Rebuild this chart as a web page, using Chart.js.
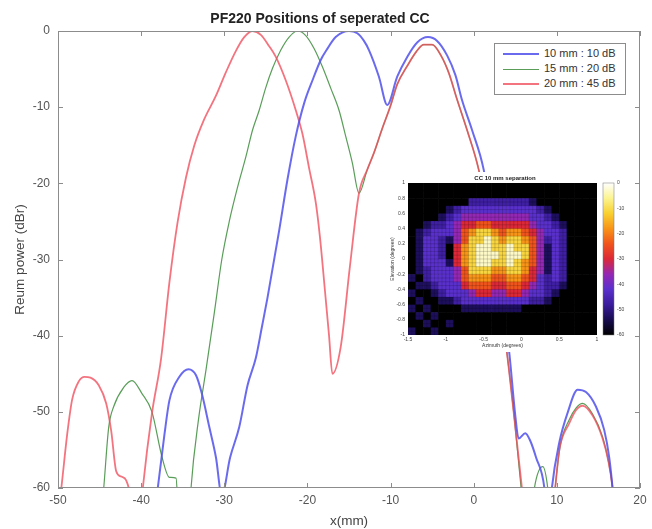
<!DOCTYPE html>
<html>
<head>
<meta charset="utf-8">
<script src="https://cdn.jsdelivr.net/npm/chart.js@4.4.0/dist/chart.umd.min.js"></script>
<style>
  body { margin: 0; background: #fff; }
  canvas { display: block; }
  #wrap { position: relative; width: 652px; height: 529px; font-family: "Liberation Sans", Arial, sans-serif; }
  #legend { position: absolute; left: 494px; top: 43px; width: 132px; height: 52px; border: 1px solid #8c8c8c; background: #fff; box-sizing: border-box; padding-top: 2px; }
  .item { height: 15px; line-height: 15px; font-size: 11px; color: #333; white-space: nowrap; }
  .swatch { display: inline-block; width: 36px; vertical-align: middle; margin: 0 5px 0 8px; }
  #inset { position: absolute; left: 382px; top: 172px; width: 246px; height: 180px; background: #fff; }
</style>
</head>
<body>
<div id="wrap">
  <canvas id="mainChart" width="652" height="529"></canvas>
  <div id="legend"></div>
  <div id="inset"><canvas id="insetChart" width="246" height="180"></canvas></div>
</div>
<script>
// Datos de las curvas (x en mm, potencia en dBr)
const SERIES_LABELS = ['10 mm : 10 dB', '15 mm : 20 dB', '20 mm : 45 dB'];

const BLUE_X = [-38.4, -38.0, -37.2, -36.6, -35.4, -34.3, -33.4, -32.7, -31.8, -31.0, -30.3, -29.3, -28.2, -27.2, -26.2, -25.5, -24.8, -23.4, -22.4, -21.4, -20.4, -19.4, -18.4, -17.7, -16.6, -15.0, -14.0, -13.2, -12.6, -11.4, -10.4, -9.2, -8.0, -6.8, -5.5, -4.4, -3.2, -2.2, -1.4, -0.2, 1.2, 2.2, 3.2, 4.3, 5.0, 5.4, 6.2, 6.8, 7.5, 8.5, 8.8, 9.1, 9.4, 10.3, 11.3, 12.5, 13.5, 14.7, 15.7, 16.3, 16.7, 17.0];
const BLUE_Y = [-64, -60, -53, -48.5, -45.4, -44.4, -45.2, -47.6, -52, -56, -61, -56, -52, -46.5, -42.9, -39, -35, -26.2, -19.5, -13.8, -9.5, -6.5, -3.8, -2.5, -0.8, 0, -0.3, -1.3, -2.5, -6, -9.7, -6, -3.4, -1.5, -0.8, -1.3, -3.2, -5.8, -9.1, -13, -18.2, -25, -33, -42.5, -50.5, -53.5, -52.8, -53.8, -56, -60, -64, -64, -60, -54, -50.1, -47.1, -47.4, -49.3, -52.4, -56, -60, -64];

const GREEN_X = [-45.0, -44.5, -43.9, -43.3, -42.1, -41.1, -39.9, -38.7, -37.5, -36.6, -35.8, -35.6, -35.4, -34.3, -34.0, -33.1, -32.2, -31.2, -30.3, -29.4, -28.4, -27.4, -26.6, -25.8, -25.0, -24.2, -23.2, -22.2, -21.2, -20.2, -19.2, -18.2, -17.2, -16.2, -15.4, -14.6, -13.8, -12.8, -12.0, -11.0, -10.0, -9.2, -8.0, -6.9, -6.0, -5.0, -3.9, -3.0, -2.0, -0.8, 0.6, 1.6, 2.6, 3.4, 4.0, 4.9, 5.7, 6.0, 6.9, 7.3, 8.3, 8.9, 9.2, 9.5, 9.8, 10.4, 11.5, 12.3, 13.1, 14.3, 15.5, 16.2, 16.7, 17.0];
const GREEN_Y = [-66, -60, -52, -49.3, -46.8, -45.9, -47.6, -50, -55.9, -58.6, -58.7, -62, -66, -66, -60, -51, -44.5, -37, -30, -25, -20.5, -16.5, -13, -10.4, -7.4, -4.9, -2.5, -0.8, 0, -0.6, -2.3, -4.7, -7.5, -10.4, -13.8, -17.3, -21.3, -18.2, -16, -12.8, -9.8, -7, -4.6, -2.7, -1.8, -1.8, -3.3, -5.5, -9.0, -13, -18.2, -24, -31, -37.5, -42.3, -51, -60, -64, -64, -60, -57.2, -60, -64, -64, -60, -54.5, -51, -49.5, -48.9, -50.3, -53.3, -56.5, -60, -64];

const RED_X = [-50.3, -49.6, -48.9, -48.3, -47.5, -46.8, -46.1, -45.1, -44.2, -43.6, -43.0, -42.4, -41.8, -41.3, -40.8, -40.3, -39.8, -38.7, -37.6, -36.6, -35.6, -34.6, -33.6, -32.5, -31.0, -29.8, -28.6, -27.6, -26.6, -25.6, -24.6, -23.8, -22.6, -21.4, -20.6, -19.8, -19.0, -18.5, -17.9, -17.4, -17.0, -16.0, -14.9, -13.8, -12.8, -12.0, -11.0, -10.0, -9.2, -8.0, -6.9, -6.0, -5.0, -3.9, -3.0, -2.0, -0.8, 0.6, 1.6, 2.6, 3.4, 4.0, 4.9, 5.8, 6.2, 9.4, 9.8, 10.3, 11.5, 12.3, 13.1, 14.3, 15.5, 16.2, 16.7, 17.0];
const RED_Y = [-66, -60, -53, -48.4, -46, -45.4, -45.5, -46.5, -48.9, -52.5, -57.8, -58.5, -59, -61, -66, -66, -60, -50.2, -43, -33, -25, -19.2, -15, -11.8, -8.5, -5.4, -2.6, -0.8, 0, -0.5, -2, -3.4, -6.5, -10.4, -13.5, -18, -22.5, -27, -34, -40, -45, -41.5, -31, -21.3, -18.2, -16, -12.8, -9.8, -7, -4.6, -2.7, -1.8, -1.8, -3.3, -5.5, -9.0, -13, -18.2, -24, -31, -37.5, -42.3, -51, -60, -64, -64, -60, -55, -51.5, -49.8, -49.2, -50.5, -53.5, -56.5, -60, -64];

// Mapa de calor del recuadro: celdas de 0.1 grados, filas de arriba (elevación 1) hacia abajo
const HEAT_AZ_MIN = -1.5;
const HEAT_EL_MAX = 1.0;
const HEAT_CELL = 0.1;
const LEVEL_DB = [-60, -53, -47, -42, -36, -30, -24, -18, -11, -3];
const HEAT_ROWS = [
  '0000000000000000000000000',
  '0000000000000000000000000',
  '0000000022222222100000000',
  '0000012333333333321000000',
  '0000123444444444332100000',
  '0012234556655555433210000',
  '0123334678876776543320000',
  '0133214688987887642320000',
  '0133205789988988641320000',
  '0133205789998998641320000',
  '0133315789988987641320000',
  '0123334688877887541320000',
  '1023334677766776532320000',
  '0112333566655665432210000',
  '1001233345544554332100000',
  '0100112333333333221000000',
  '1010000111111110000000000',
  '0101000000000000000000000',
  '0010010000000000000000000',
  '1001000000000000000000000'
];

// Escala de colores (estilo)
const CMAP_DB = [-60, -54, -48, -42, -36, -30, -24, -18, -12, -6, 0];
const CMAP_RGB = [[0, 0, 0], [24, 12, 80], [58, 28, 156], [90, 48, 204], [148, 40, 180], [220, 40, 56], [240, 84, 28], [248, 148, 24], [248, 208, 48], [252, 244, 144], [255, 255, 255]];

const FONT = '"Liberation Sans", Arial, sans-serif';
Chart.defaults.font.family = FONT;

function colorFor(db) {
  for (let k = 0; k < CMAP_DB.length - 1; k++) {
    if (db <= CMAP_DB[k + 1]) {
      const t = (db - CMAP_DB[k]) / (CMAP_DB[k + 1] - CMAP_DB[k]);
      const a = CMAP_RGB[k], b = CMAP_RGB[k + 1];
      return 'rgb(' + a.map((c, n) => Math.round(c + (b[n] - c) * t)).join(',') + ')';
    }
  }
  return 'rgb(255,255,255)';
}

const toPoints = (xs, ys) => xs.map((x, i) => ({ x: x, y: ys[i] }));
const shortNum = v => +(+v).toFixed(1);

// Marco y marcas interiores estilo MATLAB
const frameTicks = {
  id: 'frameTicks',
  afterDraw(chart) {
    const { ctx, chartArea: a, scales: { x, y } } = chart;
    ctx.save();
    ctx.strokeStyle = '#8c8c8c';
    ctx.lineWidth = 1;
    ctx.strokeRect(a.left + 0.5, a.top + 0.5, a.right - a.left - 1, a.bottom - a.top - 1);
    ctx.beginPath();
    x.ticks.forEach(t => {
      const px = Math.round(x.getPixelForValue(t.value)) + 0.5;
      ctx.moveTo(px, a.bottom); ctx.lineTo(px, a.bottom - 5);
      ctx.moveTo(px, a.top); ctx.lineTo(px, a.top + 5);
    });
    y.ticks.forEach(t => {
      const py = Math.round(y.getPixelForValue(t.value)) + 0.5;
      ctx.moveTo(a.left, py); ctx.lineTo(a.left + 5, py);
      ctx.moveTo(a.right, py); ctx.lineTo(a.right - 5, py);
    });
    ctx.stroke();
    ctx.restore();
  }
};

const mainChart = new Chart(document.getElementById('mainChart').getContext('2d'), {
  type: 'line',
  data: {
    datasets: [
      { label: SERIES_LABELS[0], data: toPoints(BLUE_X, BLUE_Y), borderColor: 'rgba(80,80,235,0.85)', borderWidth: 2, order: 0 },
      { label: SERIES_LABELS[1], data: toPoints(GREEN_X, GREEN_Y), borderColor: 'rgba(60,140,60,0.85)', borderWidth: 1.2, order: 2 },
      { label: SERIES_LABELS[2], data: toPoints(RED_X, RED_Y), borderColor: 'rgba(240,80,95,0.8)', borderWidth: 1.8, order: 1 }
    ]
  },
  options: {
    responsive: false,
    animation: false,
    layout: { padding: { left: 0, right: 12, top: 0, bottom: 0 } },
    elements: { point: { radius: 0 }, line: { cubicInterpolationMode: 'monotone' } },
    plugins: {
      legend: { display: false },
      tooltip: { enabled: false },
      title: {
        display: true,
        text: 'PF220 Positions of seperated CC',
        color: '#222',
        font: { size: 14, weight: 'bold' },
        padding: { top: 11, bottom: 3.2 }
      }
    },
    scales: {
      x: {
        type: 'linear', min: -50, max: 20,
        ticks: { stepSize: 10, color: '#555', font: { size: 12 }, padding: 5 },
        grid: { display: false, drawTicks: false },
        border: { display: false },
        title: { display: true, text: 'x(mm)', color: '#444', font: { size: 13.5 }, padding: { top: 0, bottom: 0 } },
        afterFit: s => { s.height = 41; }
      },
      y: {
        min: -60, max: 0,
        ticks: { stepSize: 10, color: '#555', font: { size: 12 }, padding: 8 },
        grid: { display: false, drawTicks: false },
        border: { display: false },
        title: { display: true, text: 'Reum power (dBr)', color: '#444', font: { size: 13.5 }, padding: { top: 11.9, bottom: 0 } },
        afterFit: s => { s.width = 58; }
      }
    }
  },
  plugins: [frameTicks]
});

// Leyenda dentro del área del gráfico
const legendBox = document.getElementById('legend');
mainChart.data.datasets.forEach(ds => {
  const row = document.createElement('div');
  row.className = 'item';
  const sw = document.createElement('span');
  sw.className = 'swatch';
  sw.style.height = ds.borderWidth + 'px';
  sw.style.background = ds.borderColor;
  row.appendChild(sw);
  row.appendChild(document.createTextNode(ds.label));
  legendBox.appendChild(row);
});

// Celdas del mapa de calor y barra de color
const heatCells = {
  id: 'heatCells',
  beforeDatasetsDraw(chart) {
    const { ctx, chartArea: a, scales: { x, y, cb } } = chart;
    ctx.save();
    ctx.beginPath();
    ctx.rect(a.left, a.top, a.right - a.left, a.bottom - a.top);
    ctx.clip();
    HEAT_ROWS.forEach((row, j) => {
      for (let i = 0; i < row.length; i++) {
        const az0 = HEAT_AZ_MIN + i * HEAT_CELL;
        const el0 = HEAT_EL_MAX - j * HEAT_CELL;
        const x0 = x.getPixelForValue(az0), x1 = x.getPixelForValue(az0 + HEAT_CELL);
        const y0 = y.getPixelForValue(el0), y1 = y.getPixelForValue(el0 - HEAT_CELL);
        ctx.fillStyle = colorFor(LEVEL_DB[+row[i]]);
        ctx.fillRect(x0, y0, x1 - x0 + 0.6, y1 - y0 + 0.6);
      }
    });
    ctx.strokeStyle = 'rgba(0,0,0,0.28)';
    ctx.lineWidth = 0.6;
    ctx.beginPath();
    for (let v = -1.5; v <= 1.0001; v += HEAT_CELL / 2) {
      const px = x.getPixelForValue(v);
      ctx.moveTo(px, a.top); ctx.lineTo(px, a.bottom);
    }
    for (let v = -1; v <= 1.0001; v += HEAT_CELL / 2) {
      const py = y.getPixelForValue(v);
      ctx.moveTo(a.left, py); ctx.lineTo(a.right, py);
    }
    ctx.stroke();
    ctx.restore();

    const top = cb.getPixelForValue(0), bot = cb.getPixelForValue(-60);
    const grad = ctx.createLinearGradient(0, bot, 0, top);
    CMAP_DB.forEach((db, k) => {
      grad.addColorStop((db + 60) / 60, 'rgb(' + CMAP_RGB[k].join(',') + ')');
    });
    ctx.fillStyle = grad;
    ctx.fillRect(a.right + 6, top, 11, bot - top);
    ctx.strokeStyle = '#777';
    ctx.lineWidth = 0.5;
    ctx.strokeRect(a.right + 6, top, 11, bot - top);
  }
};

const smallFont = { size: 5 };
new Chart(document.getElementById('insetChart').getContext('2d'), {
  type: 'scatter',
  data: { datasets: [] },
  options: {
    responsive: false,
    animation: false,
    layout: { padding: 0 },
    plugins: {
      legend: { display: false },
      tooltip: { enabled: false },
      title: {
        display: true,
        text: 'CC 10 mm separation',
        color: '#222',
        font: { size: 6, weight: 'bold' },
        padding: { top: 2.4, bottom: 1.4 }
      }
    },
    scales: {
      x: {
        type: 'linear', min: -1.5, max: 1,
        ticks: { stepSize: 0.5, color: '#444', font: smallFont, padding: 2, callback: shortNum },
        grid: { display: false, drawTicks: false },
        border: { display: false },
        title: { display: true, text: 'Azimuth (degrees)', color: '#333', font: smallFont, padding: { top: 0, bottom: 3 } },
        afterFit: s => { s.height = 17; }
      },
      y: {
        type: 'linear', min: -1, max: 1, position: 'left',
        ticks: { stepSize: 0.2, color: '#444', font: smallFont, padding: 3, callback: shortNum },
        grid: { display: false, drawTicks: false },
        border: { display: false },
        title: { display: true, text: 'Elevation (degrees)', color: '#333', font: smallFont, padding: { top: 8, bottom: 0 } },
        afterFit: s => { s.width = 26; }
      },
      cb: {
        type: 'linear', axis: 'y', position: 'right', min: -60, max: 0,
        ticks: { stepSize: 10, color: '#444', font: smallFont, padding: 2 },
        grid: { display: true, drawOnChartArea: false, drawTicks: true, tickLength: 18, color: 'rgba(0,0,0,0)' },
        border: { display: false },
        afterFit: s => { s.width = 31; }
      }
    }
  },
  plugins: [heatCells]
});
</script>
</body>
</html>
